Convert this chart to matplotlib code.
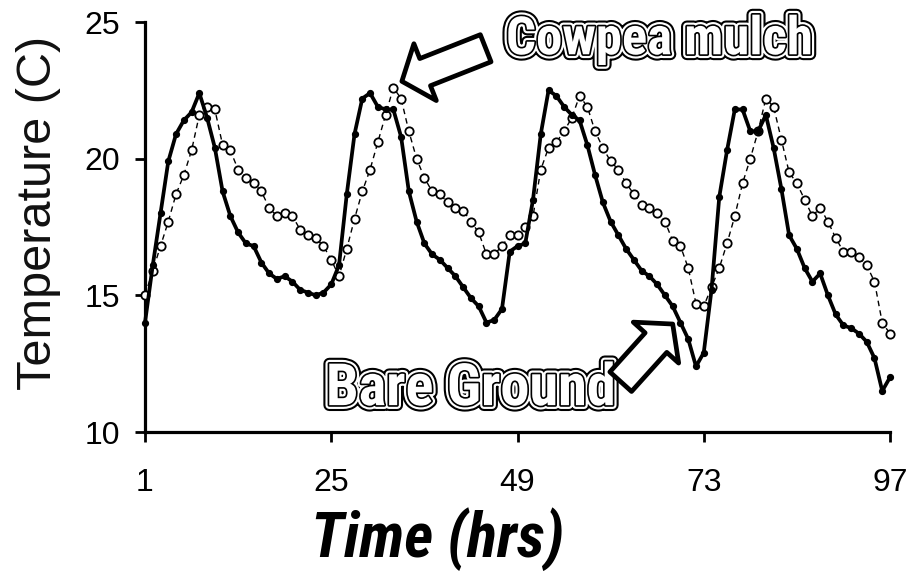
import matplotlib
matplotlib.use("Agg")
import matplotlib.pyplot as plt
import matplotlib.patheffects as pe
from matplotlib import font_manager
from matplotlib.font_manager import FontProperties

hours = list(range(1, 98))

bare_ground = [
    14.0, 16.1, 18.0, 19.9, 20.9, 21.4, 21.7, 22.4, 21.5, 20.4,
    18.8, 17.9, 17.3, 16.9, 16.8, 16.2, 15.8, 15.6, 15.7, 15.5,
    15.2, 15.1, 15.0, 15.1, 15.4, 16.1, 18.7, 20.9, 22.2, 22.4,
    21.9, 21.8, 21.8, 20.8, 18.8, 17.7, 16.9, 16.5, 16.3, 16.0,
    15.7, 15.3, 14.9, 14.6, 14.0, 14.1, 14.5, 16.6, 16.8, 16.9,
    18.5, 20.9, 22.5, 22.3, 21.9, 21.6, 21.4, 20.5, 19.4, 18.4,
    17.7, 17.2, 16.7, 16.3, 15.9, 15.7, 15.4, 15.0, 14.6, 14.0,
    13.4, 12.4, 12.9, 15.2, 18.6, 20.3, 21.8, 21.8, 21.0, 21.0,
    21.6, 20.4, 18.9, 17.2, 16.7, 16.0, 15.5, 15.8, 15.0, 14.3,
    13.9, 13.8, 13.6, 13.3, 12.7, 11.5, 12.0,
]

cowpea_mulch = [
    15.0, 15.9, 16.8, 17.7, 18.7, 19.4, 20.3, 21.6, 21.9, 21.8,
    20.5, 20.3, 19.6, 19.3, 19.1, 18.8, 18.2, 17.9, 18.0, 17.9,
    17.4, 17.2, 17.1, 16.8, 16.3, 15.7, 16.7, 17.8, 18.8, 19.6,
    20.6, 21.6, 22.6, 22.2, 21.0, 20.0, 19.3, 18.8, 18.7, 18.4,
    18.2, 18.1, 17.7, 17.3, 16.5, 16.5, 16.8, 17.2, 17.2, 17.5,
    17.9, 19.6, 20.4, 20.6, 21.0, 21.5, 22.3, 21.9, 21.0, 20.4,
    19.9, 19.6, 19.1, 18.7, 18.3, 18.2, 18.0, 17.7, 17.0, 16.8,
    16.0, 14.7, 14.6, 15.3, 16.0, 16.9, 17.9, 19.1, 20.0, 21.0,
    22.2, 21.9, 20.7, 19.5, 19.1, 18.5, 17.9, 18.2, 17.7, 17.1,
    16.6, 16.6, 16.4, 16.1, 15.5, 14.0, 13.6,
]

x_ticks = [1, 25, 49, 73, 97]
y_ticks = [10, 15, 20, 25]
x_label = "Time (hrs)"
y_label = "Temperature (C)"
label_cowpea = "Cowpea mulch"
label_bare = "Bare Ground"


def is_bold(f):
    w = f.weight
    if isinstance(w, str):
        return w in ("bold", "heavy", "black", "extra bold", "demibold", "semibold")
    return w >= 600


def find_narrow(italic):
    prefs = ["Liberation Sans Narrow", "Roboto Condensed", "Open Sans Condensed",
             "DejaVu Sans Condensed", "DejaVu Sans"]
    cands = []
    for f in font_manager.fontManager.ttflist:
        cond = ("Narrow" in f.name or "Condensed" in f.name
                or "ondensed" in f.fname or "Narrow" in f.fname
                or f.stretch in ("condensed", "semi-condensed", "extra-condensed"))
        if not cond or not is_bold(f):
            continue
        it = f.style in ("italic", "oblique")
        if it != italic:
            continue
        rank = len(prefs)
        for i, p in enumerate(prefs):
            if f.name.startswith(p) or p.replace(" ", "") in f.fname.replace(" ", ""):
                rank = i
                break
        cands.append((rank, f.fname))
    if not cands:
        return None
    cands.sort()
    return cands[0][1]


bold_file = find_narrow(False)
bi_file = find_narrow(True)
if bold_file:
    fp_bold = FontProperties(fname=bold_file)
    s_bold = 1.0
else:
    fp_bold = FontProperties(family="Liberation Sans", weight="bold")
    s_bold = 0.84
if bi_file:
    fp_bi = FontProperties(fname=bi_file)
    s_bi = 1.0
else:
    fp_bi = FontProperties(family="Liberation Sans", weight="bold", style="italic")
    s_bi = 0.84

base = "Liberation Sans"

fig = plt.figure(figsize=(9.09, 5.81), dpi=100)
ax = fig.add_axes([145 / 909, (581 - 432) / 581, (890 - 145) / 909, (432 - 22) / 581])

ax.plot(hours, cowpea_mulch, color="black", lw=1.0, dashes=(4, 3),
        marker="o", markersize=6, markerfacecolor="white",
        markeredgecolor="black", markeredgewidth=1.3, zorder=3, clip_on=False)
ax.plot(hours, bare_ground, color="black", lw=2.7, marker="o",
        markersize=4.2, markerfacecolor="black", markeredgecolor="black",
        zorder=4, clip_on=False)

ax.set_xlim(1, 97)
ax.set_ylim(10, 25)
ax.set_xticks(x_ticks)
ax.set_yticks(y_ticks)
for s in ["top", "right"]:
    ax.spines[s].set_visible(False)
for s in ["left", "bottom"]:
    ax.spines[s].set_linewidth(2.3)
ax.tick_params(axis="both", direction="out", length=7, width=2, color="black")
ax.tick_params(axis="x", pad=19)
ax.tick_params(axis="y", pad=11)
for lab in ax.get_xticklabels() + ax.get_yticklabels():
    lab.set_fontfamily(base)
    lab.set_fontsize(23)

ax.set_ylabel(y_label, fontsize=35, family=base, color="#111111")
ax.yaxis.set_label_coords(-0.113, 0.535)

xl = ax.set_xlabel(x_label)
fp_x = fp_bi.copy()
fp_x.set_size(45 * s_bi)
xl.set_fontproperties(fp_x)
ax.xaxis.set_label_coords(0.393, -0.183)

effects = [pe.Stroke(linewidth=8.5, foreground="black"),
           pe.Stroke(linewidth=5.5, foreground="white"),
           pe.Stroke(linewidth=2.4, foreground="black"),
           pe.Normal()]

fp_c = fp_bold.copy()
fp_c.set_size(38 * s_bold)
fp_b = fp_bold.copy()
fp_b.set_size(42 * s_bold)

ax.text(67.3, 24.35, label_cowpea, ha="center", va="center", color="white",
        fontproperties=fp_c, path_effects=effects, clip_on=False, zorder=6)
ax.text(43.0, 11.55, label_bare, ha="center", va="center", color="white",
        fontproperties=fp_b, path_effects=effects, clip_on=False, zorder=6)

arrow_style = "simple,head_length=18,head_width=44,tail_width=21"
ax.annotate("", xy=(34.1, 22.83), xytext=(44.9, 24.04),
            arrowprops=dict(arrowstyle=arrow_style, mutation_scale=1,
                            fc="white", ec="black", lw=3.4,
                            shrinkA=0, shrinkB=0),
            annotation_clip=False, zorder=7)
ax.annotate("", xy=(69.0, 13.95), xytext=(62.3, 11.84),
            arrowprops=dict(arrowstyle=arrow_style, mutation_scale=1,
                            fc="white", ec="black", lw=3.4,
                            shrinkA=0, shrinkB=0),
            annotation_clip=False, zorder=7)

fig.savefig("out.png", dpi=100)
